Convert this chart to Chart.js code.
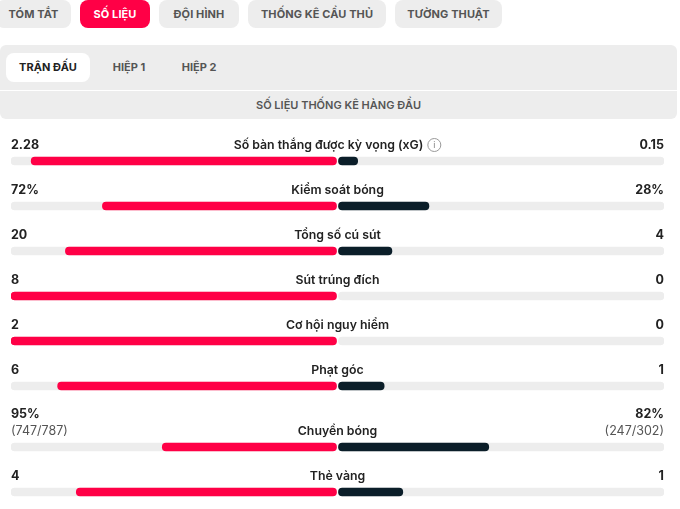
<!DOCTYPE html>
<html>
<head>
<meta charset="utf-8">
<script src="https://cdn.jsdelivr.net/npm/chart.js@4"></script>
<style>
  body { margin: 0; width: 680px; height: 509px; overflow: hidden; background: #fff; font-family: Inter, "Noto Sans", sans-serif; }
  .pill { position: absolute; top: 0; height: 28px; line-height: 28px; border-radius: 8px; background: #ededed; color: #555; font-size: 11px; font-weight: 700; text-align: center; letter-spacing: 0.1px; }
  .pill.on { background: #ff0046; color: #fff; }
  .sub { position: absolute; left: 0; top: 45px; width: 677px; height: 45px; background: #ededed; border-radius: 6px 6px 0 0; }
  .subtab { position: absolute; top: 8px; height: 29px; line-height: 29px; font-size: 11px; font-weight: 700; color: #555; text-align: center; }
  .subtab.on { background: #fff; color: #222; border-radius: 8px; }
  .head { position: absolute; left: 0; top: 91px; width: 677px; height: 28px; line-height: 28px; background: #ededed; border-radius: 0 0 6px 6px; color: #555; font-size: 11px; font-weight: 600; text-align: center; }
  canvas { position: absolute; left: 0; top: 120px; }
</style>
</head>
<body>
<div class="pill" style="left:-4px;width:75px;">TÓM TẮT</div>
<div class="pill on" style="left:80px;width:70px;">SỐ LIỆU</div>
<div class="pill" style="left:159px;width:80px;">ĐỘI HÌNH</div>
<div class="pill" style="left:248px;width:138px;">THỐNG KÊ CẦU THỦ</div>
<div class="pill" style="left:395px;width:107px;">TƯỜNG THUẬT</div>
<div class="sub">
  <div class="subtab on" style="left:6px;width:84px;">TRẬN ĐẤU</div>
  <div class="subtab" style="left:104px;width:50px;">HIỆP 1</div>
  <div class="subtab" style="left:174px;width:50px;">HIỆP 2</div>
</div>
<div class="head">SỐ LIỆU THỐNG KÊ HÀNG ĐẦU</div>
<canvas id="stats" width="680" height="389"></canvas>
<script>
const statNames = ['Số bàn thắng được kỳ vọng (xG)', 'Kiểm soát bóng', 'Tổng số cú sút', 'Sút trúng đích', 'Cơ hội nguy hiểm', 'Phạt góc', 'Chuyền bóng', 'Thẻ vàng'];
const homeValues = [2.28, 72, 20, 8, 2, 6, 95, 4];
const awayValues = [0.15, 28, 4, 0, 0, 1, 82, 1];
const homeText = ['2.28', '72%', '20', '8', '2', '6', '95%', '4'];
const awayText = ['0.15', '28%', '4', '0', '0', '1', '82%', '1'];
const homeSub = ['', '', '', '', '', '', '(747/787)', ''];
const awaySub = ['', '', '', '', '', '', '(247/302)', ''];

const RED = '#ff0046';
const DARK = '#0b1e29';
const TRACK = '#ededed';
const GAP = 1 / 326.5;

// row position on the y scale; passes row is taller (two-line values)
function rowPos(i) {
    return i >= 6 ? i + 16 / 45 : i;
}

const rows = statNames.map((n, i) => rowPos(i));
const homeShare = homeValues.map((v, i) => v / (v + awayValues[i]));
const awayShare = awayValues.map((v, i) => v / (homeValues[i] + v));

const textPlugin = {
    id: 'statText',
    afterDatasetsDraw(chart) {
        const ctx = chart.ctx;
        const yScale = chart.scales.y;
        const xScale = chart.scales.x;
        const left = xScale.getPixelForValue(-1);
        const right = xScale.getPixelForValue(1);
        const mid = xScale.getPixelForValue(0);
        ctx.save();
        ctx.textBaseline = 'middle';
        statNames.forEach((name, i) => {
            const y = yScale.getPixelForValue(rows[i]) - 16;
            const top = homeSub[i] ? y - 17 : y;
            ctx.font = '700 12.5px Inter, "Noto Sans", sans-serif';
            ctx.fillStyle = '#222';
            ctx.textAlign = 'left';
            ctx.fillText(homeText[i], left, top);
            ctx.textAlign = 'right';
            ctx.fillText(awayText[i], right, top);

            // title, with info icon for xG
            ctx.font = '600 12.3px Inter, "Noto Sans", sans-serif';
            const iconW = i === 0 ? 18 : 0;
            const w = ctx.measureText(name).width;
            const start = mid - (w + iconW) / 2;
            ctx.textAlign = 'left';
            ctx.fillText(name, start, y);
            if (iconW) {
                const cx = start + w + 11;
                ctx.strokeStyle = '#999';
                ctx.lineWidth = 1;
                ctx.beginPath();
                ctx.arc(cx, y, 6.5, 0, Math.PI * 2);
                ctx.stroke();
                ctx.fillStyle = '#999';
                ctx.font = '500 9px Inter, sans-serif';
                ctx.textAlign = 'center';
                ctx.fillText('i', cx, y + 0.5);
            }
            if (homeSub[i]) {
                ctx.font = '400 12.5px Inter, "Noto Sans", sans-serif';
                ctx.fillStyle = '#555';
                ctx.textAlign = 'left';
                ctx.fillText(homeSub[i], left, y);
                ctx.textAlign = 'right';
                ctx.fillText(awaySub[i], right, y);
            }
        });
        ctx.restore();
    }
};

const common = { barThickness: 8, borderRadius: 4, borderSkipped: false, grouped: false };

new Chart(document.getElementById('stats'), {
    type: 'bar',
    data: {
        datasets: [
            Object.assign({ label: 'home', order: 1, backgroundColor: RED,
                data: rows.map((r, i) => ({ y: r, x: homeShare[i] > 0 ? [-homeShare[i], -GAP] : null })) }, common),
            Object.assign({ label: 'away', order: 1, backgroundColor: DARK,
                data: rows.map((r, i) => ({ y: r, x: awayShare[i] > 0 ? [GAP, awayShare[i]] : null })) }, common),
            Object.assign({ label: 'trackL', order: 2, backgroundColor: TRACK,
                data: rows.map(r => ({ y: r, x: [-1, -GAP] })) }, common),
            Object.assign({ label: 'trackR', order: 2, backgroundColor: TRACK,
                data: rows.map(r => ({ y: r, x: [GAP, 1] })) }, common)
        ]
    },
    options: {
        indexAxis: 'y',
        responsive: false,
        animation: false,
        devicePixelRatio: 1,
        layout: { padding: { left: 11, right: 16, top: 0, bottom: 0 } },
        plugins: { legend: { display: false }, tooltip: { enabled: false } },
        scales: {
            x: { type: 'linear', min: -1, max: 1, display: false },
            y: { type: 'linear', reverse: true, offset: false, min: -41 / 45, max: (389 - 41) / 45, display: false }
        }
    },
    plugins: [textPlugin]
});
</script>
</body>
</html>
